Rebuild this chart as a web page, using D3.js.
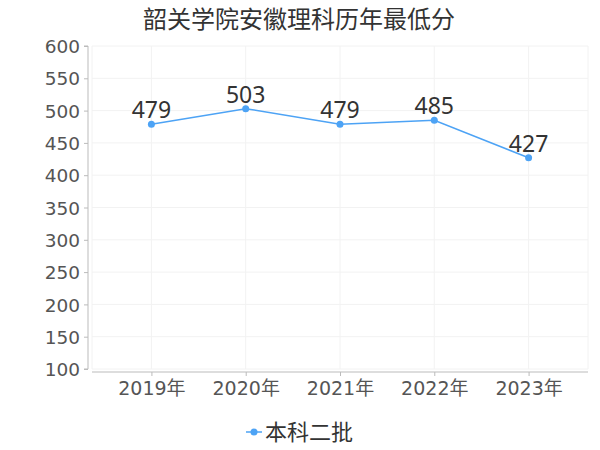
<!DOCTYPE html>
<html><head><meta charset="utf-8">
<script src="https://cdn.jsdelivr.net/npm/d3@7/dist/d3.min.js"></script>
<style>body{margin:0;background:#fff;} text{font-family:"DejaVu Sans","Noto Sans CJK SC",sans-serif;}</style>
</head><body>
<svg id="c" width="600" height="450"></svg>
<script>
const categories = ["2019年","2020年","2021年","2022年","2023年"];
const values = [479, 503, 479, 485, 427];
const yTicks = [100,150,200,250,300,350,400,450,500,550,600];
const seriesName = "本科二批";
const title = "韶关学院安徽理科历年最低分";

(function(){
const svg = d3.select("#c");
const pL = 92, pR = 588, pT = 46, pB = 369;
const x = d3.scalePoint().domain(categories).range([pL, pR]).padding(0.63);
const y = d3.scaleLinear().domain([100, 600]).range([pB, pT]);
const color = "#4da3f5";

const g = svg.append("g");
g.selectAll(".hg").data(yTicks).enter().append("line")
  .attr("x1", pL).attr("x2", pR).attr("y1", d => y(d)).attr("y2", d => y(d))
  .attr("stroke", "#f2f2f2");
g.selectAll(".vg").data(categories).enter().append("line")
  .attr("x1", d => x(d)).attr("x2", d => x(d)).attr("y1", pT).attr("y2", pB)
  .attr("stroke", "#f2f2f2");
[pL, pR].forEach(v => g.append("line").attr("x1", v).attr("x2", v).attr("y1", pT).attr("y2", pB).attr("stroke", "#f2f2f2"));

const ya = svg.append("g").attr("transform", "translate(88,0)")
  .call(d3.axisLeft(y).tickValues(yTicks).tickSize(4).tickPadding(4));
ya.select(".domain").attr("stroke", "#bbb").attr("d", `M-4,${pT}H0V${pB}H-4`);
ya.selectAll(".tick line").attr("stroke", "#bbb");
ya.selectAll("text").attr("fill", "#555").style("font-size", "18.5px").attr("dy", "0.36em");

const xa = svg.append("g").attr("transform", "translate(0,372)")
  .call(d3.axisBottom(x).tickSize(4).tickPadding(6));
xa.select(".domain").attr("stroke", "#bbb").attr("d", `M${pL},0H${pR}`);
xa.selectAll(".tick line").attr("stroke", "#bbb");
xa.selectAll("text").attr("fill", "#555").style("font-size", "19px");

const line = d3.line().x((d, i) => x(categories[i])).y(d => y(d));
svg.append("path").datum(values).attr("d", line)
  .attr("fill", "none").attr("stroke", color).attr("stroke-width", 1.5);
svg.selectAll(".pt").data(values).enter().append("circle")
  .attr("cx", (d, i) => x(categories[i])).attr("cy", d => y(d)).attr("r", 3.5)
  .attr("fill", color);
svg.selectAll(".lbl").data(values).enter().append("text")
  .attr("x", (d, i) => x(categories[i])).attr("y", d => y(d) - 6)
  .attr("text-anchor", "middle").attr("fill", "#333")
  .style("font-family", "'Noto Sans',sans-serif").style("font-size", "23px")
  .text(d => d);

svg.append("text").attr("x", 299).attr("y", 28).attr("text-anchor", "middle")
  .attr("fill", "#333").style("font-family", "'Noto Sans CJK SC',sans-serif").style("font-size", "24px").text(title);

svg.append("line").attr("x1", 246).attr("x2", 262).attr("y1", 432).attr("y2", 432)
  .attr("stroke", color).attr("stroke-width", 1.5);
svg.append("circle").attr("cx", 254).attr("cy", 432).attr("r", 3.5).attr("fill", color);
svg.append("text").attr("x", 265).attr("y", 440).attr("fill", "#333")
  .style("font-family", "'Noto Sans CJK SC',sans-serif").style("font-size", "22px").text(seriesName);
})();
</script>
</body></html>
